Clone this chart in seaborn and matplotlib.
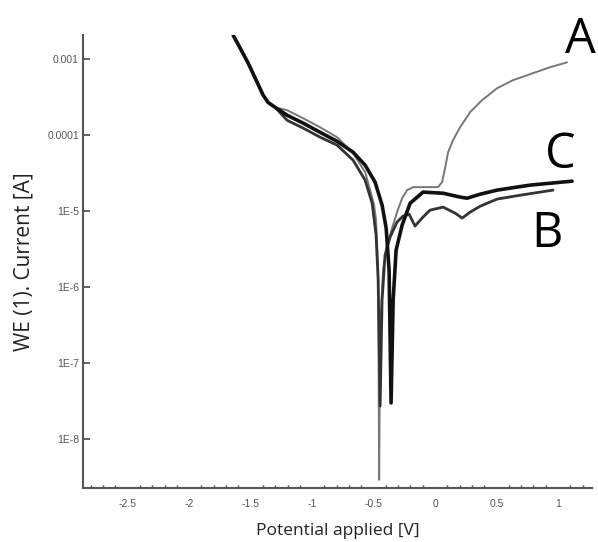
import numpy as np
import pandas as pd
import seaborn as sns
import matplotlib.pyplot as plt
from matplotlib.ticker import FixedLocator, FixedFormatter, MultipleLocator

sns.set_theme(style="white")

# ---------------------------------
# Data
# ---------------------------------
# Curve A (thin grey)
a_potential = [-1.642, -1.585, -1.520, -1.455, -1.398, -1.358, -1.301, -1.203,
               -1.073, -0.935, -0.797, -0.667, -0.569, -0.528, -0.496, -0.480,
               -0.463, -0.455, -0.447, -0.423, -0.390, -0.350, -0.309, -0.268,
               -0.228, -0.179, 0.024, 0.057, 0.081, 0.106, 0.146, 0.203, 0.285,
               0.382, 0.504, 0.634, 0.772, 0.935, 1.073]
a_current = [2.07e-3, 1.40e-3, 8.9e-4, 5.3e-4, 3.36e-4, 2.7e-4, 2.33e-4, 2.13e-4,
             1.67e-4, 1.27e-4, 9.4e-5, 5.8e-5, 3.26e-5, 1.89e-5, 1.2e-5, 7.6e-6,
             1.67e-6, 2.9e-9, 2.7e-7, 1.67e-6, 3.57e-6, 5.97e-6, 9.7e-6, 1.48e-5,
             1.89e-5, 2.07e-5, 2.07e-5, 2.41e-5, 3.68e-5, 5.97e-5, 8.6e-5, 1.27e-4,
             2.01e-4, 2.89e-4, 4.15e-4, 5.3e-4, 6.35e-4, 7.85e-4, 9.1e-4]

# Curve B (medium dark)
b_potential = [-1.642, -1.585, -1.520, -1.455, -1.398, -1.358, -1.301, -1.203,
               -1.073, -0.935, -0.797, -0.667, -0.569, -0.512, -0.480, -0.463,
               -0.447, -0.431, -0.407, -0.366, -0.309, -0.260, -0.211, -0.163,
               -0.106, -0.041, 0.065, 0.163, 0.220, 0.285, 0.366, 0.504, 0.691,
               0.959]
b_current = [2.07e-3, 1.40e-3, 8.9e-4, 5.3e-4, 3.36e-4, 2.7e-4, 2.33e-4, 1.57e-4,
             1.24e-4, 9.4e-5, 7.4e-5, 4.69e-5, 2.56e-5, 1.27e-5, 4.83e-6, 1.24e-6,
             2.72e-8, 6.75e-7, 2.64e-6, 4.55e-6, 7.2e-6, 8.6e-6, 9.1e-6, 6.35e-6,
             8.1e-6, 1.03e-5, 1.13e-5, 9.4e-6, 8.1e-6, 9.7e-6, 1.16e-5, 1.44e-5,
             1.62e-5, 1.89e-5]

# Curve C (thick black)
c_potential = [-1.642, -1.585, -1.520, -1.455, -1.398, -1.358, -1.301, -1.203,
               -1.073, -0.935, -0.797, -0.667, -0.569, -0.488, -0.431, -0.398,
               -0.374, -0.358, -0.341, -0.317, -0.268, -0.203, -0.098, 0.065,
               0.203, 0.260, 0.366, 0.504, 0.772, 1.114]
c_current = [2.07e-3, 1.40e-3, 8.9e-4, 5.3e-4, 3.36e-4, 2.7e-4, 2.33e-4, 1.83e-4,
             1.44e-4, 1.09e-4, 8.3e-5, 5.97e-5, 4.03e-5, 2.41e-5, 1.2e-5, 5.97e-6,
             1.67e-6, 2.98e-8, 6.75e-7, 3.07e-6, 6.55e-6, 1.27e-5, 1.78e-5, 1.72e-5,
             1.53e-5, 1.48e-5, 1.67e-5, 1.89e-5, 2.2e-5, 2.48e-5]

y_ticks = [1e-3, 1e-4, 1e-5, 1e-6, 1e-7, 1e-8]
y_tick_labels = ["0.001", "0.0001", "1E-5", "1E-6", "1E-7", "1E-8"]
x_ticks = [-2.5, -2, -1.5, -1, -0.5, 0, 0.5, 1]
x_tick_labels = ["-2.5", "-2", "-1.5", "-1", "-0.5", "0", "0.5", "1"]

# Curve labels: text, potential, current (baseline)
labels = [("A", 1.055, 1.2e-3), ("C", 0.894, 3.68e-5), ("B", 0.78, 3.36e-6)]

# ---------------------------------
# Plot
# ---------------------------------
f = plt.figure(figsize=(5.98, 5.42), dpi=100)
ax = f.add_axes([0.139, 0.0996, 0.851, 0.8354])

curves = [(a_potential, a_current, "#777777", 1.4),
          (b_potential, b_current, "#333333", 2.0),
          (c_potential, c_current, "#111111", 2.6)]
for xs, ys, color, lw in curves:
    sns.lineplot(x=xs, y=ys, sort=False, estimator=None, color=color,
                 linewidth=lw, solid_joinstyle="round", ax=ax)

ax.set_yscale("log")
ax.set_xlim(-2.862, 1.276)
ax.set_ylim(2.26e-9, 2.07e-3)

# Ticks
ax.yaxis.set_major_locator(FixedLocator(y_ticks))
ax.yaxis.set_major_formatter(FixedFormatter(y_tick_labels))
ax.yaxis.set_minor_locator(FixedLocator([]))
ax.xaxis.set_major_locator(FixedLocator(x_ticks))
ax.xaxis.set_major_formatter(FixedFormatter(x_tick_labels))
ax.xaxis.set_minor_locator(MultipleLocator(0.1))
ax.tick_params(axis="both", which="major", direction="in", length=5,
               width=1.2, color="#444444", labelsize=7.5, labelcolor="#555555")
ax.tick_params(axis="x", which="minor", direction="in", length=2,
               width=1.0, color="#444444", bottom=True)
ax.tick_params(axis="x", which="major", pad=8)
ax.tick_params(axis="y", which="major", pad=3, left=True)
for lab in ax.get_xticklabels() + ax.get_yticklabels():
    lab.set_family("Liberation Sans")

# Spines
sns.despine(ax=ax)
for side in ["left", "bottom"]:
    ax.spines[side].set_color("#555555")
    ax.spines[side].set_linewidth(1.5)

ax.set_xlabel("Potential applied [V]", fontsize=12.5, family="Open Sans",
              color="#222222", labelpad=10)
ax.set_ylabel("WE (1). Current [A]", fontsize=15, family="Open Sans",
              color="#222222", labelpad=9)

for text, xv, yv in labels:
    ax.text(xv, yv, text, fontsize=35, family="Open Sans", color="black",
            ha="left", va="baseline", clip_on=False)

f.savefig("out.png", dpi=100)
